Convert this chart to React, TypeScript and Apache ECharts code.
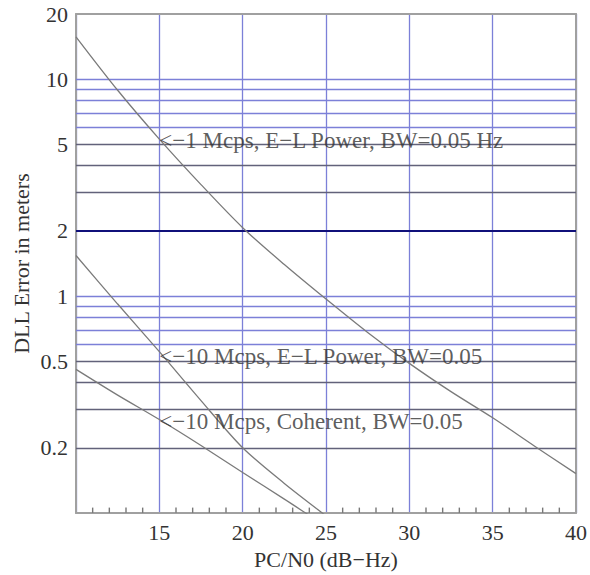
import React, { useEffect, useRef } from "react";
import * as echarts from "echarts";

// Data
const xValues = [10, 12.5, 15, 17.5, 20, 22.5, 25, 27.5, 30, 32.5, 35, 37.5, 40];
const oneMcpsPower = [15.7, 8.9, 5.3, 3.27, 2.07, 1.4, 0.97, 0.68, 0.49, 0.363, 0.275, 0.204, 0.152];
const tenMcpsPower = [1.54, 0.92, 0.555, 0.33, 0.2, 0.137, 0.097, 0.068];
const tenMcpsCoherent = [0.46, 0.35, 0.27, 0.205, 0.154, 0.116, 0.087, 0.066];

const curveLabels = [
  "<\u22121 Mcps, E\u2212L Power, BW=0.05 Hz",
  "<\u221210 Mcps, E\u2212L Power, BW=0.05",
  "<\u221210 Mcps, Coherent, BW=0.05",
];
const labelAnchorX = [15, 15, 15];
const labelAnchorY = [5.2, 0.526, 0.265];

const yTickLabels = [20, 10, 5, 2, 1, 0.5, 0.2];
const blueGridY = [10, 9, 8, 7, 6, 1, 0.9, 0.8, 0.7, 0.6];
const grayGridY = [5, 4, 3, 0.5, 0.4, 0.3, 0.2];
const navyGridY = [2];
const minorTickX = [11, 12, 13, 14, 16, 17, 18, 19, 21, 22, 23, 24, 26, 27, 28, 29, 31, 32, 33, 34, 36, 37, 38, 39];

const xTitle = "PC/N0 (dB\u2212Hz)";
const yTitle = "DLL Error in meters";

const SERIF = '"Liberation Serif", "Times New Roman", serif';
const BLUE = "#7c80d8";
const GRAY = "#62627a";
const NAVY = "#10107a";
const CURVE = "#7a7a7a";
const TEXT = "#333333";
const FRAME = "#a0a0a0";
const Y_MIN = 0.1;
const Y_MAX = 20;

function pairs(ys: number[]) {
  return ys.map((y, i) => [xValues[i], y]);
}

export default function App() {
  const ref = useRef<HTMLDivElement>(null);
  useEffect(() => {
    if (!ref.current) return;
    const chart = echarts.init(ref.current, undefined, { renderer: "svg" });
    const curveSeries = [oneMcpsPower, tenMcpsPower, tenMcpsCoherent].map((ys) => ({
      type: "line",
      data: pairs(ys),
      showSymbol: false,
      smooth: 0.3,
      clip: true,
      z: 5,
      lineStyle: { color: CURVE, width: 1.3 },
      silent: true,
    }));
    const frameAxis = {
      axisLine: { show: true, lineStyle: { color: FRAME, width: 2 } },
      axisTick: { show: false },
      axisLabel: { show: false },
      splitLine: { show: false },
    };
    chart.setOption({
      animation: false,
      backgroundColor: "#ffffff",
      grid: {
        left: 76,
        right: 8,
        top: 14,
        bottom: 57,
        show: false,
      },
      xAxis: [
        {
          type: "value",
          min: 10,
          max: 40,
          interval: 5,
          name: xTitle,
          nameLocation: "middle",
          nameGap: 33,
          nameTextStyle: { fontFamily: SERIF, fontSize: 22, color: TEXT },
          axisLine: { show: true, onZero: false, lineStyle: { color: FRAME, width: 2 } },
          axisTick: { show: false },
          splitLine: { show: true, lineStyle: { color: BLUE, width: 1.3 } },
          axisLabel: {
            showMinLabel: false,
            margin: 8,
            fontFamily: SERIF,
            fontSize: 22,
            color: TEXT,
          },
        },
        { type: "value", position: "top", min: 10, max: 40, ...frameAxis },
      ],
      yAxis: [
        {
          type: "log",
          logBase: 10,
          min: Y_MIN,
          max: Y_MAX,
          name: yTitle,
          nameLocation: "middle",
          nameGap: 44,
          nameTextStyle: { fontFamily: SERIF, fontSize: 22, color: TEXT },
          axisLine: { show: true, onZero: false, lineStyle: { color: FRAME, width: 2 } },
          axisTick: { show: false },
          axisLabel: { show: false },
          splitLine: { show: false },
        },
        { type: "log", logBase: 10, position: "right", min: Y_MIN, max: Y_MAX, ...frameAxis },
      ],
      series: [
        {
          type: "line",
          data: [],
          z: 1,
          silent: true,
          markLine: {
            silent: true,
            symbol: "none",
            animation: false,
            label: { show: false },
            data: [
              ...blueGridY.map((v) => ({ yAxis: v, lineStyle: { color: BLUE, width: 1.3, type: "solid" } })),
              ...grayGridY.map((v) => ({ yAxis: v, lineStyle: { color: GRAY, width: 1.3, type: "solid" } })),
              ...navyGridY.map((v) => ({ yAxis: v, lineStyle: { color: NAVY, width: 2.2, type: "solid" } })),
            ],
          },
        },
        {
          type: "line",
          data: [],
          z: 1,
          silent: true,
          markLine: {
            silent: true,
            symbol: "none",
            animation: false,
            lineStyle: { color: "rgba(0,0,0,0)", width: 0 },
            label: {
              show: true,
              position: "start",
              distance: 8,
              formatter: (p: any) => String(p.value),
              fontFamily: SERIF,
              fontSize: 22,
              color: TEXT,
            },
            data: yTickLabels.map((v) => ({ yAxis: v })),
          },
        },
        {
          type: "scatter",
          silent: true,
          z: 4,
          symbol: "rect",
          symbolSize: [1.4, 5],
          symbolOffset: [0, -3],
          itemStyle: { color: "#555555" },
          data: minorTickX.map((x) => [x, Y_MIN]),
          clip: false,
        },
        ...curveSeries,
        {
          type: "scatter",
          silent: true,
          z: 6,
          symbolSize: 0,
          itemStyle: { color: "transparent" },
          data: curveLabels.map((t, i) => ({ value: [labelAnchorX[i], labelAnchorY[i]], name: t })),
          label: {
            show: true,
            position: "right",
            distance: 0,
            formatter: (p: any) => p.name,
            fontFamily: SERIF,
            fontSize: 23,
            color: TEXT,
          },
        },
      ],
    });
    return () => chart.dispose();
  }, []);
  return (
    <div
      ref={ref}
      style={{ position: "fixed", left: 0, top: 0, width: 590, height: 575, background: "#fff" }}
    />
  );
}
